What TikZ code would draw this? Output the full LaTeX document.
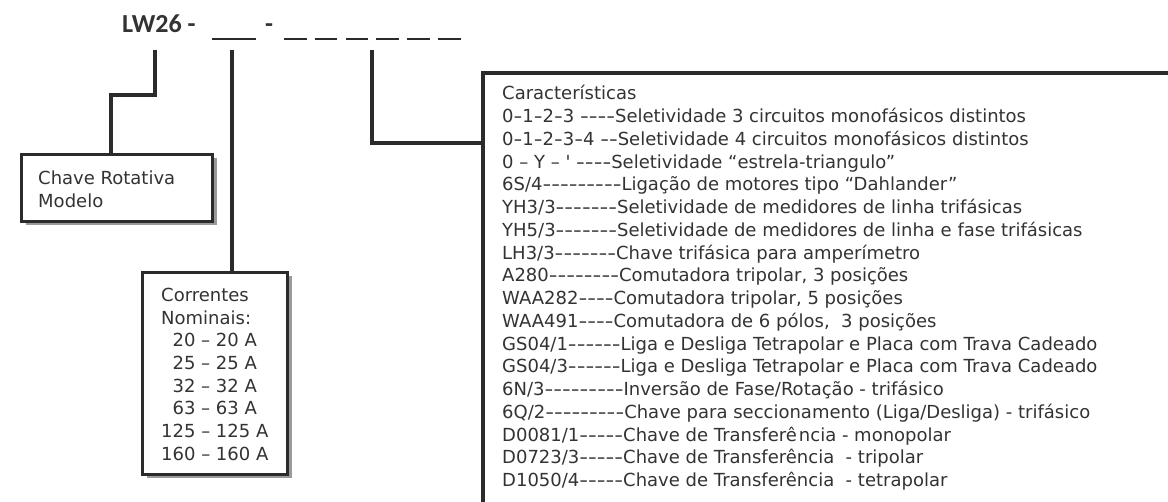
\documentclass[tikz,border=0pt]{standalone}
\usepackage{fontspec}
\usetikzlibrary{shadows}
\newfontfamily\bodyfont{DejaVu Sans}
\newfontfamily\hyfont[FakeStretch=1.35]{DejaVu Sans}
\newfontfamily\titlefont{Carlito}
\newcommand\hy[1]{{\hyfont #1}}
\definecolor{ink}{HTML}{2B2B2B}
\definecolor{txt}{HTML}{333333}
\definecolor{shadowgray}{HTML}{9A9A9A}
\begin{document}
\begin{tikzpicture}[x=1pt,y=-1pt,
  conn/.style={draw=ink, line width=4pt},
  slot/.style={draw=ink, line width=2pt},
  boxframe/.style={draw=ink, line width=3pt, fill=white, inner sep=0pt, anchor=north west,
    drop shadow={shadow xshift=4pt, shadow yshift=-4pt, fill=shadowgray, opacity=1}},
  lbl/.style={anchor=base west, inner sep=0pt, text=txt, font=\bodyfont\fontsize{18}{22.7}\selectfont},
  ttl/.style={anchor=base west, inner sep=0pt, text=txt, font=\titlefont\bfseries\fontsize{26}{30}\selectfont}]
\useasboundingbox (0,0) rectangle (1168,502);
\clip (0,0) rectangle (1168,502);
% title
\node[ttl] (title) at (122,33) {LW26 -};
\node[ttl] (dash2) at (265,33) {-};
\draw[slot] (211.5,39.5) -- (255.7,39.5);
\foreach \a/\b in {284/307,315/337,346/368,376/399,407/430,438/461}
  \draw[slot] (\a,39.5) -- (\b,39.5);
% boxes
\node[boxframe, minimum width=191pt, minimum height=67pt] (b1) at (20,153) {};
\node[boxframe, minimum width=145pt, minimum height=202pt] (b2) at (141,271) {};
\node[draw=ink, line width=4pt, fill=white, inner sep=0pt, anchor=north west,
  minimum width=900pt, minimum height=600pt] (b3) at (481,71.5) {};
% connectors
\coordinate (s1) at (155,50);
\coordinate (k1) at (111,95);
\coordinate (s2) at (232,50);
\coordinate (s3) at (372,50);
\coordinate (k3) at (372,143.5);
\draw[conn] (s1) |- (k1) -- (k1 |- b1.north);
\draw[conn] (s2) -- (s2 |- b2.north);
\draw[conn] (s3) -- (k3) -- (k3 -| b3.west);
% box 1 text
\node[lbl] (m1) at (38,185) {Chave Rotativa};
\node[lbl] (m2) at (38,207.7) {Modelo};
% box 2 text
\foreach \t [count=\i from 0] in {{Correntes},{Nominais:},{\ \ 20 – 20 A},{\ \ 25 – 25 A},{\ \ 32 – 32 A},{\ \ 63 – 63 A},{125 – 125 A},{160 – 160 A}}
  \node[lbl] (n\i) at (161,301.5+\i*22.65) {\t};
% box 3 text
\foreach \t [count=\i from 0] in {
  {Características},
  {0\hy{-}1\hy{-}2\hy{-}3 \hy{----}Seletividade 3 circuitos monofásicos distintos},
  {0\hy{-}1\hy{-}2\hy{-}3\hy{-}4 \hy{--}Seletividade 4 circuitos monofásicos distintos},
  {0 – Y – \char"27{} \hy{----}Seletividade “estrela-triangulo”},
  {6S/4\hy{---------}Ligação de motores tipo “Dahlander”},
  {YH3/3\hy{-------}Seletividade de medidores de linha trifásicas},
  {YH5/3\hy{-------}Seletividade de medidores de linha e fase trifásicas},
  {LH3/3\hy{-------}Chave trifásica para amperímetro},
  {A280\hy{--------}Comutadora tripolar, 3 posições},
  {WAA282\hy{----}Comutadora tripolar, 5 posições},
  {WAA491\hy{----}Comutadora de 6 pólos,\ \ 3 posições},
  {GS04/1\hy{------}Liga e Desliga Tetrapolar e Placa com Trava Cadeado},
  {GS04/3\hy{------}Liga e Desliga Tetrapolar e Placa com Trava Cadeado},
  {6N/3\hy{---------}Inversão de Fase/Rotação - trifásico},
  {6Q/2\hy{---------}Chave para seccionamento (Liga/Desliga) - trifásico},
  {D0081/1\hy{-----}Chave de Transferê\hspace{2pt}ncia - monopolar},
  {D0723/3\hy{-----}Chave de Transferência\ \ - tripolar},
  {D1050/4\hy{-----}Chave de Transferência\ \ - tetrapolar}}
  \node[lbl] (c\i) at (502,100+\i*22.75) {\t};
\end{tikzpicture}
\end{document}
